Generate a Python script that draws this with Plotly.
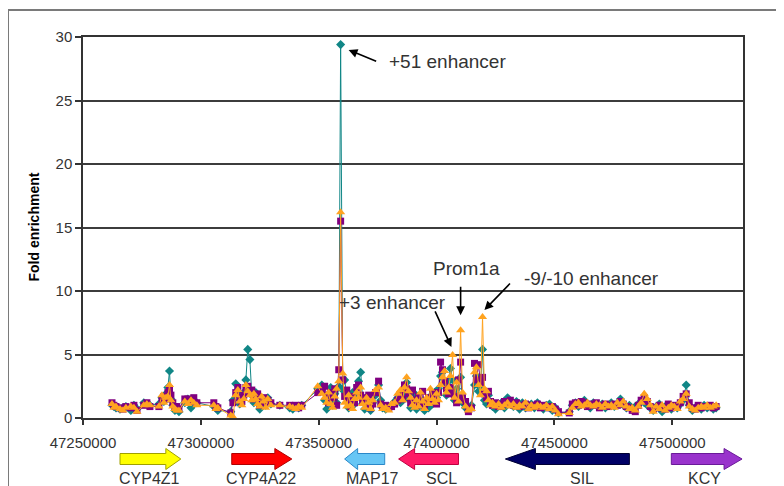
import plotly.graph_objects as go

# ---------------- data ----------------
positions = [
    47262300, 47263100, 47264000, 47265700, 47266900, 47268200, 47270300, 47271600, 47272900,
    47275800, 47277100, 47278400, 47282200, 47283500, 47284300, 47285200, 47286000, 47286700,
    47287300, 47288100, 47289000, 47289800, 47290700, 47293200, 47294500, 47295800, 47297000,
    47298300, 47305500, 47306400, 47307200,
    47312700, 47313600, 47314800, 47315700, 47316500, 47317400, 47318200, 47319100, 47319900,
    47320800, 47321600, 47322500, 47323300, 47324100, 47325000, 47325800, 47326700, 47327500,
    47328400, 47329700, 47333500, 47337700, 47339000, 47340200, 47341500, 47342800,
    47349600, 47351300, 47352500, 47353400, 47354200, 47355100, 47355900, 47356800, 47357600,
    47358500, 47359300, 47360200, 47361000, 47361900, 47362700, 47363600, 47364400, 47365200,
    47366100, 47366900, 47367800, 47368600, 47369500, 47370300, 47371200, 47372000, 47372900,
    47374100, 47375400, 47376300, 47377100, 47378400, 47379700, 47380900, 47382200, 47383500,
    47384700, 47385600, 47386400, 47387300, 47388100, 47389000, 47389800, 47390700, 47391500,
    47392400, 47393200, 47394100, 47394900, 47395800, 47396600, 47397400, 47398300, 47399100,
    47400000, 47400800, 47401700, 47402500, 47403400, 47404200, 47405100, 47405900, 47406800,
    47407600, 47408500, 47409300, 47410200, 47411000, 47412300, 47413500, 47414800, 47416100,
    47416900, 47417800, 47418600, 47419500, 47420300, 47421200, 47422000, 47422900, 47423700,
    47425000, 47426300, 47427500, 47428800, 47430100, 47431300, 47432600, 47433900, 47435200,
    47436400, 47437700, 47439000, 47440200, 47441500, 47442800, 47444100, 47445300, 47446600,
    47447900, 47449100, 47450400, 47451700, 47456300, 47457600, 47458900, 47460200, 47461400,
    47462700, 47464000, 47465200, 47466500, 47467800, 47469100, 47470300, 47471600, 47472900,
    47474100, 47475400, 47476700, 47478000, 47479200, 47480500, 47481800, 47483000, 47484300,
    47485600, 47486800, 47488100, 47489400, 47490700, 47491900, 47493200, 47494500, 47495700,
    47497000, 47498300, 47499600, 47500800, 47502100, 47503400, 47504600, 47505900, 47507200,
    47508500, 47509700, 47511000, 47512300, 47513500, 47514800, 47516100, 47517400, 47518600,
]

teal_values = [
    1.0, 0.9, 0.8, 0.7, 0.8, 0.9, 0.6, 1.0, 0.7,
    1.2, 1.1, 1.0, 1.1, 1.6, 1.3, 1.9, 2.4, 3.7,
    1.5, 1.0, 0.6, 0.8, 0.5, 1.2, 1.5, 0.8, 1.4,
    1.2, 0.9, 0.8, 0.6,
    0.5, 1.4, 2.7, 1.8, 1.1, 1.5, 2.0, 3.0, 5.4,
    4.6, 1.8, 1.2, 2.0, 1.4, 0.7, 1.5, 1.2, 1.0,
    1.6, 1.1, 1.0, 0.8, 0.7, 0.9, 0.8, 1.0,
    2.3, 2.6, 1.4, 0.7, 1.5, 2.4, 1.0, 1.9, 1.2,
    2.5, 29.4, 2.2, 3.0, 1.6, 0.8, 1.3, 2.0, 1.1,
    1.8, 2.9, 3.6, 1.6, 0.7, 1.4, 1.0, 0.6, 1.2,
    1.8, 2.6, 1.4, 0.8, 0.7, 0.9, 1.0, 1.3, 1.6,
    1.2, 2.2, 1.7, 2.8, 1.5, 0.8, 1.1, 1.9, 0.7,
    1.0, 1.5, 0.9, 0.6, 1.3, 0.8, 1.7, 1.1, 2.0,
    1.6, 2.3, 3.3, 3.6, 2.6, 1.8, 2.9, 3.9, 3.0,
    1.4, 2.3, 1.7, 3.2, 1.2, 0.8, 0.7, 1.0, 2.6,
    3.3, 2.1, 2.4, 5.4, 1.4, 1.1, 1.8, 1.2, 0.9,
    0.7, 1.0, 1.2, 0.8, 1.6, 1.1, 0.9, 1.3, 0.7,
    1.2, 0.8, 1.0, 1.1, 0.8, 1.2, 0.9, 0.7, 1.0,
    1.1, 0.6, 0.8, 0.4, 0.5, 1.0, 1.2, 0.9, 1.1,
    1.4, 1.0, 0.8, 1.2, 1.0, 0.9, 1.1, 0.8, 1.0,
    1.2, 0.9, 1.1, 1.5, 1.0, 0.8, 1.0, 0.7, 0.9,
    1.1, 1.3, 1.2, 1.0, 0.8, 0.6, 0.9, 1.1, 0.5,
    0.9, 1.0, 0.7, 0.9, 0.8, 1.1, 1.4, 2.6, 1.0,
    0.6, 0.8, 0.9, 0.7, 1.0, 0.8, 0.9, 0.7, 0.8,
]

purple_values = [
    1.2, 1.0, 0.9, 0.8, 0.7, 0.9, 0.8, 1.0, 0.6,
    1.0, 1.2, 0.9, 0.9, 1.4, 1.7, 1.5, 2.0, 2.3,
    1.8, 1.2, 0.9, 0.9, 0.7, 1.5, 1.5, 1.3, 1.6,
    1.2, 1.2, 0.9, 0.8,
    0.4, 1.2, 2.0, 2.4, 1.6, 1.3, 1.8, 2.4, 2.5,
    2.0, 2.2, 1.5, 1.7, 1.9, 1.0, 1.3, 1.6, 1.2,
    1.4, 1.2, 1.0, 1.0, 0.9, 1.0, 0.8, 1.0,
    2.0, 2.2, 2.5, 1.8, 1.2, 2.0, 1.6, 2.3, 1.0,
    3.8, 15.5, 3.0, 1.7, 2.2, 1.4, 0.9, 1.7, 1.2,
    2.4, 2.6, 1.8, 1.3, 1.6, 1.0, 1.8, 0.8, 1.1,
    2.0, 2.9, 1.1, 0.9, 1.0, 0.8, 0.9, 1.1, 1.4,
    1.8, 1.5, 2.6, 2.3, 1.9, 1.2, 2.2, 1.4, 1.0,
    1.7, 1.1, 2.1, 0.9, 1.2, 1.6, 1.3, 2.0, 1.5,
    1.1, 2.0, 4.4, 3.8, 2.9, 2.3, 1.9, 2.4, 2.0,
    1.7, 1.2, 3.0, 4.4, 1.6, 1.3, 0.5, 0.8, 4.3,
    3.0, 4.2, 2.8, 3.2, 1.9, 1.6, 2.1, 1.3, 1.0,
    1.2, 0.9, 1.1, 1.3, 1.1, 1.4, 1.0, 1.2, 0.9,
    1.0, 1.1, 0.8, 1.0, 0.9, 1.1, 0.8, 1.0, 0.9,
    0.8, 0.9, 0.7, 0.5, 0.4, 1.1, 1.2, 1.0, 1.3,
    1.2, 0.9, 1.1, 1.0, 1.2, 0.8, 1.0, 1.1, 0.9,
    1.0, 1.1, 1.0, 1.3, 1.1, 0.9, 0.8, 0.6, 0.5,
    1.0, 1.4, 1.6, 1.3, 0.9, 0.7, 0.8, 1.0, 0.8,
    0.7, 1.1, 0.8, 1.0, 0.9, 1.2, 1.7, 1.9, 1.2,
    0.8, 0.7, 1.0, 0.8, 0.9, 0.9, 1.0, 0.8, 0.9,
]

orange_values = [
    1.1, 0.8, 0.9, 0.7, 0.6, 0.8, 0.9, 0.8, 0.5,
    1.0, 1.1, 1.0, 0.9, 1.8, 1.2, 1.6, 1.7, 2.6,
    1.4, 0.9, 0.7, 0.6, 0.6, 1.3, 1.1, 1.4, 1.2,
    1.0, 1.0, 0.7, 0.8,
    0.2, 0.1, 1.8, 2.2, 1.3, 1.0, 1.5, 2.6, 2.1,
    1.8, 1.4, 1.9, 1.5, 1.1, 0.9, 1.7, 1.3, 0.8,
    1.5, 1.0, 1.0, 0.9, 0.8, 0.7, 0.9, 0.8,
    2.5, 1.9, 1.6, 1.2, 2.0, 1.1, 0.8, 1.7, 2.3,
    2.9, 16.2, 3.5, 1.2, 0.9, 1.8, 1.0, 0.7, 1.5,
    2.0, 1.6, 2.4, 1.1, 0.8, 1.6, 1.2, 0.7, 1.4,
    2.2, 2.4, 1.0, 0.7, 0.8, 0.6, 1.1, 1.2, 1.9,
    2.2, 1.4, 2.4, 3.2, 2.1, 1.6, 1.0, 0.8, 1.4,
    0.9, 2.0, 1.3, 0.7, 1.6, 1.1, 2.3, 1.5, 1.2,
    1.9, 1.4, 2.6, 3.2, 3.7, 2.0, 2.4, 3.3, 4.96,
    1.6, 2.8, 1.3, 6.9, 2.0, 0.9, 0.6, 0.7, 3.6,
    4.0, 2.6, 1.8, 7.95, 2.3, 2.1, 1.4, 1.0, 1.2,
    0.9, 1.1, 0.8, 1.0, 1.2, 0.9, 1.1, 0.8, 1.0,
    0.9, 1.2, 0.7, 1.0, 0.8, 1.0, 0.9, 0.8, 1.0,
    0.7, 0.9, 0.6, 0.3, 0.4, 0.8, 1.1, 1.2, 0.9,
    1.0, 1.2, 1.0, 0.9, 1.1, 1.0, 0.8, 1.1, 0.9,
    1.0, 0.8, 1.2, 1.0, 1.3, 0.9, 0.7, 0.8, 0.6,
    0.9, 1.2, 1.9, 1.5, 1.0, 0.5, 0.9, 0.7, 1.0,
    0.6, 0.8, 1.0, 0.9, 0.7, 1.3, 1.5, 1.9, 0.9,
    0.7, 0.6, 0.8, 0.9, 0.8, 1.0, 0.8, 0.9, 1.0,
]

x_ticks = [47250000, 47300000, 47350000, 47400000, 47450000, 47500000]
y_ticks = [0, 5, 10, 15, 20, 25, 30]

gene_names = ["CYP4Z1", "CYP4A22", "MAP17", "SCL", "SIL", "KCY"]
gene_starts = [47265700, 47313100, 47361000, 47383900, 47429200, 47499600]
gene_ends = [47291500, 47338600, 47378000, 47409300, 47481800, 47529600]
gene_strands = ["+", "+", "-", "-", "-", "+"]
gene_label_x = [47278400, 47325400, 47372900, 47402100, 47461900, 47513500]

note_labels = ["+51 enhancer", "Prom1a", "-9/-10 enhancer", "+3 enhancer"]
note_text_x = [47404700, 47412700, 47465700, 47381300]
note_text_y = [28.1, 11.8, 11.0, 9.06]
note_tip_x = [47362700, 47410200, 47420300, 47406300]
note_tip_y = [28.98, 8.1, 8.5, 5.6]

# ---------------- style ----------------
OFF = 8
PAGE_W, PAGE_H = 784, 486
W, H = PAGE_W - OFF, PAGE_H - OFF
PL, PR, PT, PB = 83, 743, 37, 418
ML, MR, MT, MB = PL - OFF, (OFF + W) - PR, PT - OFF, (OFF + H) - PB
XR = [47250000, 47530000]
YR = [0, 30]
FONT = "Liberation Sans, Arial, sans-serif"
plot_w = PR - PL
plot_h = PB - PT
bp_per_px = (XR[1] - XR[0]) / plot_w

def py_to_paper(py):
    return (PB - py) / plot_h

def px_to_paper(px):
    return (px - PL) / plot_w

fig = go.Figure()

series = [
    ("teal", teal_values, "#108686", "diamond", 7),
    ("purple", purple_values, "#800080", "square", 7),
    ("orange", orange_values, "#ffa31f", "triangle-up", 8),
]
for name, vals, col, sym, sz in series:
    fig.add_trace(go.Scatter(
        x=positions, y=vals, mode="lines+markers", name=name,
        line=dict(color=col, width=1),
        marker=dict(symbol=sym, size=sz, color=col, line=dict(width=0)),
        showlegend=False, hoverinfo="skip",
    ))

gene_fill = ["#ffff00", "#ff0000", "#66c6f5", "#ff1a66", "#000066", "#9933cc"]
gene_line = ["#a0a000", "#b00000", "#2a88c8", "#c00040", "#000033", "#6a1a99"]
head_px = [15, 17, 13, 16, 30, 18]
cy = py_to_paper(459)
a = 5.5 / plot_h
b = 10.5 / plot_h
shapes = []
for s, e, strand, hp, fc, lc in zip(gene_starts, gene_ends, gene_strands, head_px, gene_fill, gene_line):
    h = hp * bp_per_px
    if strand == "+":
        pts = [(s, cy - a), (e - h, cy - a), (e - h, cy - b), (e, cy), (e - h, cy + b), (e - h, cy + a), (s, cy + a)]
    else:
        pts = [(e, cy - a), (s + h, cy - a), (s + h, cy - b), (s, cy), (s + h, cy + b), (s + h, cy + a), (e, cy + a)]
    path = "M " + " L ".join(f"{x},{y}" for x, y in pts) + " Z"
    shapes.append(dict(type="path", xref="x", yref="paper", path=path,
                       fillcolor=fc, line=dict(color=lc, width=1), layer="above"))

shapes.append(dict(type="rect", xref="paper", yref="paper",
                   x0=px_to_paper(8), x1=px_to_paper(800), y0=py_to_paper(500), y1=py_to_paper(10),
                   line=dict(color="#7a7a7a", width=2), fillcolor="rgba(0,0,0,0)", layer="below"))

annotations = []
for name, lx in zip(gene_names, gene_label_x):
    annotations.append(dict(x=lx, y=py_to_paper(478), xref="x", yref="paper", text=name,
                            showarrow=False, font=dict(family=FONT, size=16, color="#333333"),
                            xanchor="center", yanchor="middle"))

tails = [(29, 12), (0, -30), (27, -28), (-17, -37)]
for lab, tx, ty, ax_, ay_, (dx, dy) in zip(note_labels, note_text_x, note_text_y, note_tip_x, note_tip_y, tails):
    annotations.append(dict(x=tx, y=ty, xref="x", yref="y", text=lab, showarrow=False,
                            font=dict(family=FONT, size=19, color="#333333"),
                            xanchor="center", yanchor="middle"))
    annotations.append(dict(x=ax_, y=ay_, xref="x", yref="y", text="", showarrow=True,
                            ax=dx, ay=dy, arrowhead=2, arrowsize=1.1, arrowwidth=1.6,
                            arrowcolor="#000000"))

annotations.append(dict(x=px_to_paper(33), y=0.5, xref="paper", yref="paper",
                        text="<b>Fold enrichment</b>", textangle=-90, showarrow=False,
                        font=dict(family=FONT, size=14, color="#000000"),
                        xanchor="center", yanchor="middle"))

fig.update_layout(
    width=W, height=H,
    margin=dict(l=ML, r=MR, t=MT, b=MB, autoexpand=False),
    paper_bgcolor="white", plot_bgcolor="white",
    font=dict(family=FONT, color="#333333"),
    shapes=shapes, annotations=annotations,
    xaxis=dict(range=XR, tickvals=x_ticks, ticktext=[str(t) for t in x_ticks],
               showgrid=False, zeroline=False, showline=True, linecolor="#333333", linewidth=1.5,
               mirror=True, ticks="outside", ticklen=5, tickcolor="#333333", tickwidth=1.5,
               tickfont=dict(family=FONT, size=15, color="#333333"), ticklabelstandoff=5),
    yaxis=dict(range=YR, tickvals=y_ticks, showgrid=True, gridcolor="#3c3c3c", gridwidth=1.5,
               zeroline=False, showline=True, linecolor="#333333", linewidth=1.5, mirror=True,
               ticks="outside", ticklen=6, tickcolor="#333333", tickwidth=1.5,
               tickfont=dict(family=FONT, size=15, color="#333333")),
)

fig.write_html("out.html", config={"displayModeBar": False})
